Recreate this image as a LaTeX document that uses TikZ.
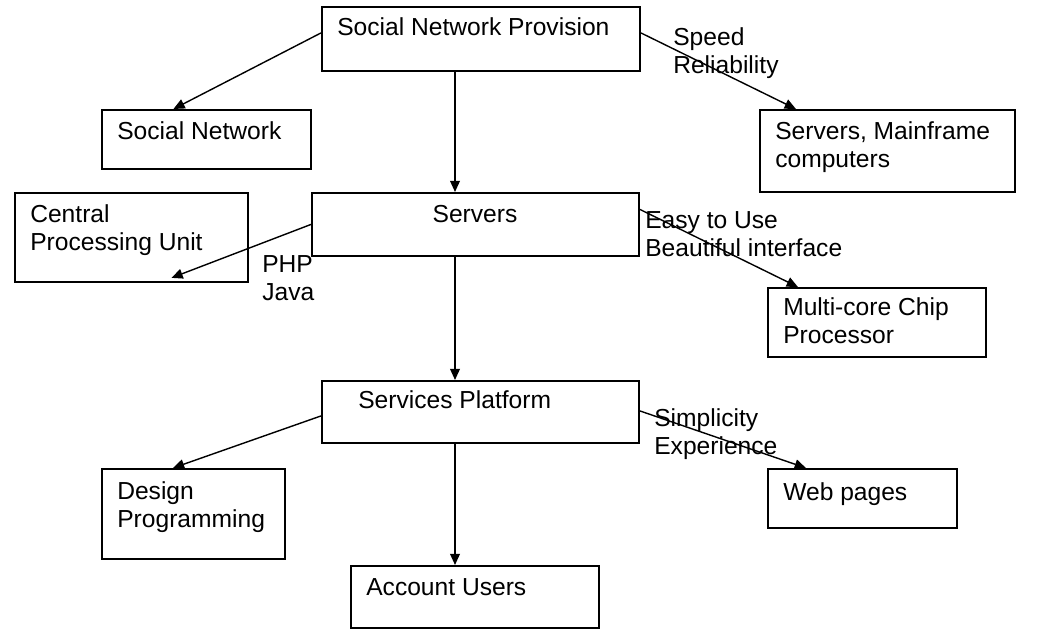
\documentclass[tikz,border=0pt]{standalone}
\usepackage{fontspec}
\setmainfont{Liberation Sans}
\usepackage{tikz}
\usetikzlibrary{arrows.meta,positioning,calc}
\newcommand{\boxfont}{\fontsize{17.5}{19.9}\selectfont}

\begin{document}
\begin{tikzpicture}[x=0.025cm, y=-0.025cm, >={Triangle[length=8pt,width=7pt]},
  box/.style={draw, line width=1.3pt, anchor=north west, inner sep=0pt},
  txt/.style={font=\boxfont, anchor=base west, align=left, inner sep=0pt},
  arr/.style={->, line width=1pt}]
  \useasboundingbox (0,0) rectangle (1057,637);
  % boxes
  \node[box, minimum width=7.95cm, minimum height=1.6cm] (spn) at (321,6) {};
  \node[box, minimum width=5.225cm, minimum height=1.475cm] (sn) at (101,109) {};
  \node[box, minimum width=6.375cm, minimum height=2.05cm] (smc) at (759,109) {};
  \node[box, minimum width=5.825cm, minimum height=2.225cm] (cpu) at (14,192) {};
  \node[box, minimum width=8.175cm, minimum height=1.575cm] (srv) at (311,192) {};
  \node[box, minimum width=5.45cm, minimum height=1.725cm] (mcp) at (767,287) {};
  \node[box, minimum width=7.925cm, minimum height=1.55cm] (sp) at (321,380) {};
  \node[box, minimum width=4.575cm, minimum height=2.25cm] (dp) at (101,468) {};
  \node[box, minimum width=4.725cm, minimum height=1.475cm] (wp) at (767,468) {};
  \node[box, minimum width=6.2cm, minimum height=1.55cm] (au) at (350,565) {};
  % box texts (base = last line)
  \node[txt] (spntxt) at (337,36) {Social Network Provision};
  \node[txt] (sntxt) at (117,139) {Social Network};
  \node[txt] (smctxt) at (775,167) {Servers, Mainframe\\computers};
  \node[txt] (cputxt) at (30,250) {Central\\Processing Unit};
  \node[txt, anchor=base] (srvtxt) at (475,222) {Servers};
  \node[txt] (mcptxt) at (783,343) {Multi-core Chip\\Processor};
  \node[txt] (sptxt) at (358,408) {Services Platform};
  \node[txt] (dptxt) at (117,527) {Design\\Programming};
  \node[txt] (wptxt) at (783,500) {Web pages};
  \node[txt] (autxt) at (366,595) {Account Users};
  % edge labels
  \node[txt] (l1) at (673,73) {Speed\\Reliability};
  \node[txt] (l2) at (645,256) {Easy to Use\\Beautiful interface};
  \node[txt] (l3) at (262,300) {PHP\\Java};
  \node[txt] (l4) at (654,454) {Simplicity\\Experience};
  % connectors
  \coordinate (col) at (455,0);
  \draw[arr] ($(spn.west)+(0,-6)$) -- ($(sn.north)+(-33,0)$);
  \draw[arr] (spn.south -| col) -- (srv.north -| col);
  \draw[arr] ($(spn.east)+(0,-6)$) -- ($(smc.north)+(-91.5,0)$);
  \draw[arr] (srv.west) -- ($(cpu.south)+(40,-5)$);
  \draw[arr] ($(srv.east)+(0,-15)$) -- ($(mcp.north)+(-79,0)$);
  \draw[arr] (srv.south -| col) -- (sp.north -| col);
  \draw[arr] ($(sp.west)+(0,4)$) -- ($(dp.north)+(-20.5,0)$);
  \draw[arr] ($(sp.east)+(0,-1)$) -- ($(wp.north)+(-56.5,0)$);
  \draw[arr] (sp.south -| col) -- (au.north -| col);
\end{tikzpicture}
\end{document}
